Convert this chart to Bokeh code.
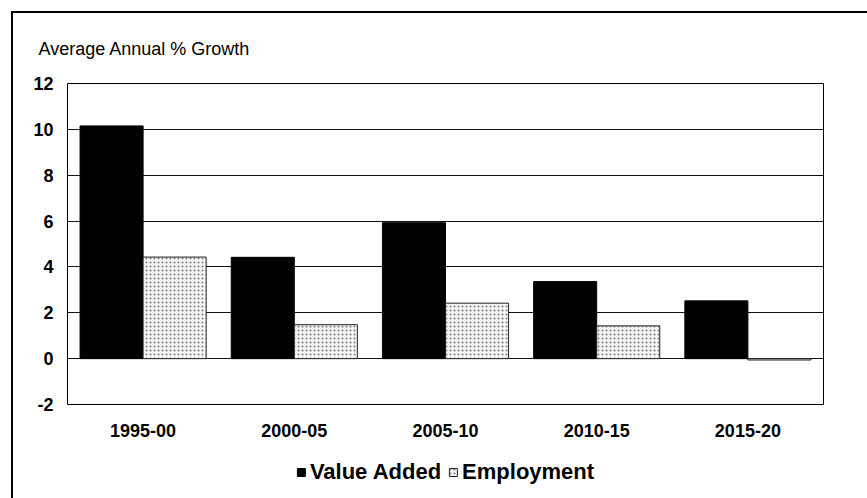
from bokeh.plotting import figure
from bokeh.layouts import column
from bokeh.models import (ColumnDataSource, Legend, LegendItem, FactorRange, Range1d, FixedTicker,
                          Title, InlineStyleSheet)
from bokeh.transform import dodge
from bokeh.embed import file_html
from bokeh.resources import INLINE

periods = ["1995-00", "2000-05", "2005-10", "2010-15", "2015-20"]
value_added = [10.15, 4.42, 5.93, 3.36, 2.52]
employment = [4.43, 1.48, 2.42, 1.43, -0.06]
y_ticks = [-2, 0, 2, 4, 6, 8, 10, 12]
series_names = ["Value Added", "Employment"]

source = ColumnDataSource(dict(period=periods, va=value_added, emp=employment))

FONT = "Liberation Sans"
VA_STYLE = dict(fill_color="black", line_color="black", line_width=1)
EMP_STYLE = dict(fill_color="#f6f6f6", line_color="#222222", line_width=1,
                 hatch_pattern="dot", hatch_color="#7a7a7a", hatch_scale=4, hatch_weight=1)

p = figure(x_range=FactorRange(*periods), y_range=Range1d(-2, 12),
           width=867, height=445, output_backend="svg", toolbar_location=None,
           min_border_left=67, min_border_right=44, min_border_top=83, min_border_bottom=41)

t = Title(text="Average Annual % Growth", align="left", offset=-29, standoff=49,
          text_font=FONT, text_font_size="18px", text_font_style="normal", text_color="black")
p.add_layout(t, "above")

p.vbar(x=dodge("period", -0.2085, range=p.x_range), top="va", bottom=0, width=0.417,
       source=source, **VA_STYLE)
p.vbar(x=dodge("period", 0.2085, range=p.x_range), top="emp", bottom=0, width=0.417,
       source=source, **EMP_STYLE)

p.outline_line_color = "black"
p.outline_line_width = 1
p.background_fill_color = "white"
p.border_fill_color = None

p.xgrid.grid_line_color = None
p.ygrid.grid_line_color = "#111111"
p.ygrid.grid_line_width = 1
p.ygrid.ticker = FixedTicker(ticks=y_ticks)
p.ygrid.level = "underlay"

p.yaxis.ticker = FixedTicker(ticks=y_ticks)
p.yaxis.major_label_overrides = {-2: "-2"}
p.yaxis.axis_line_color = None
p.yaxis.major_tick_line_color = None
p.yaxis.minor_tick_line_color = None
p.yaxis.major_tick_in = 0
p.yaxis.major_tick_out = 0
p.yaxis.major_label_standoff = 14
p.yaxis.major_label_text_font = FONT
p.yaxis.major_label_text_font_size = "18px"
p.yaxis.major_label_text_font_style = "bold"
p.yaxis.major_label_text_color = "black"

p.xaxis.axis_line_color = None
p.xaxis.major_tick_line_color = None
p.xaxis.minor_tick_line_color = None
p.xaxis.major_tick_in = 0
p.xaxis.major_tick_out = 0
p.xaxis.major_label_standoff = 19
p.xaxis.major_label_text_font = FONT
p.xaxis.major_label_text_font_size = "18px"
p.xaxis.major_label_text_font_style = "bold"
p.xaxis.major_label_text_color = "black"

# legend strip below the chart (helper glyphs have no visible data)
lg = figure(width=867, height=53, output_backend="svg", toolbar_location=None,
            x_range=Range1d(0, 1), y_range=Range1d(0, 1),
            min_border_left=26, min_border_right=0, min_border_top=0, min_border_bottom=0)
lg.axis.visible = False
lg.grid.visible = False
lg.outline_line_color = None
lg.background_fill_color = None
lg.border_fill_color = None
nan = float("nan")
hidden = ColumnDataSource(dict(x=[nan], top=[nan]))
lr_va = lg.vbar(x="x", top="top", width=0.1, source=hidden, **VA_STYLE)
lr_emp = lg.vbar(x="x", top="top", width=0.1, source=hidden, **EMP_STYLE)
legend = Legend(items=[LegendItem(label=series_names[0], renderers=[lr_va], index=0),
                       LegendItem(label=series_names[1], renderers=[lr_emp], index=0)],
                orientation="horizontal", location="center",
                glyph_width=10, glyph_height=10, label_standoff=4, spacing=7,
                label_text_font=FONT, label_text_font_size="22px", label_text_font_style="bold",
                label_text_color="black",
                border_line_color=None, background_fill_alpha=0, margin=0, padding=0)
lg.add_layout(legend, "center")

frame_css = InlineStyleSheet(css="""
:host { position: relative; background: white; }
:host::after {
  content: ""; position: absolute; left: 11px; top: 11px;
  width: calc(100% - 11px); height: calc(100% - 11px);
  border-left: 2px solid black; border-top: 2px solid black; pointer-events: none;
  box-sizing: border-box;
}
""")

layout = column(p, lg, spacing=0, stylesheets=[frame_css])

open("out.html", "w").write(file_html(layout, INLINE))
